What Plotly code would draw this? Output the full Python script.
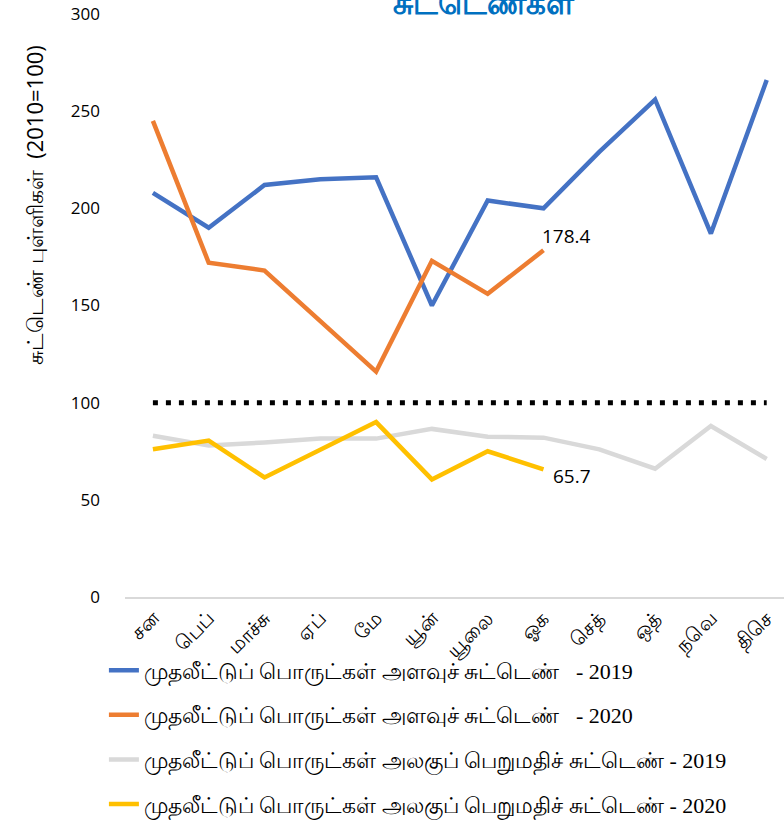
import plotly.graph_objects as go

months = ["சன", "பெப்", "மாச்சு", "ஏப்", "மே", "யூன்", "யூலை", "ஓக", "செத்", "ஒத்", "நவெ", "திசெ"]

vol_2019 = [208, 190, 212, 215, 216, 150, 204, 200, 229, 256, 187, 266]
vol_2020 = [245, 172, 168, 142, 116, 173, 156, 178.4]
uv_2019 = [83, 78, 79.5, 81.5, 81.5, 86.5, 82.5, 82, 76, 66, 88, 71]
uv_2020 = [76, 80.5, 61.5, 76, 90, 60.5, 75, 65.7]
base_line = [100] * 12

names = [
    "முதலீட்டுப் பொருட்கள் அளவுச் சுட்டெண்   - 2019",
    "முதலீட்டுப் பொருட்கள் அளவுச் சுட்டெண்   - 2020",
    "முதலீட்டுப் பொருட்கள் அலகுப் பெறுமதிச் சுட்டெண் - 2019",
    "முதலீட்டுப் பொருட்கள் அலகுப் பெறுமதிச் சுட்டெண் - 2020",
]

fig = go.Figure()

# base line at 100 (no legend entry)
fig.add_trace(go.Scatter(x=months, y=base_line, mode="lines", showlegend=False,
                         line=dict(color="black", width=5, dash="5px,8px"), hoverinfo="skip"))

series = [
    (vol_2019, "#4472C4"),
    (vol_2020, "#ED7D31"),
    (uv_2019, "#D9D9D9"),
    (uv_2020, "#FFC000"),
]
for i, (vals, col) in enumerate(series):
    fig.add_trace(go.Scatter(x=months[:len(vals)], y=vals, mode="lines", name=names[i],
                             legendgroup="g%d" % i, line=dict(color=col, width=4.5)))

fig.add_annotation(x=months[7], y=vol_2020[7], text="178.4", showarrow=False,
                   xanchor="left", yanchor="middle", xshift=-4, yshift=14,
                   font=dict(size=19, color="black", family="Open Sans"))
fig.add_annotation(x=months[7], y=uv_2020[7], text="65.7", showarrow=False,
                   xanchor="left", yanchor="middle", xshift=7, yshift=-7,
                   font=dict(size=19, color="black", family="Open Sans"))

# title, mostly cut off at the top of the picture
fig.add_annotation(xref="paper", yref="paper", x=0.545, y=1, yanchor="bottom", yshift=-11,
                   text="<b>சுட்டெண்கள்</b>", showarrow=False,
                   font=dict(size=31, color="#0070C0"))

# y axis title
fig.add_annotation(xref="paper", yref="paper", x=-0.137, y=0.672, xanchor="center",
                   yanchor="middle", textangle=-90,
                   text="சுட்டெண் புள்ளிகள்  (2010=100)", showarrow=False,
                   font=dict(size=22, color="black"))

fig.update_layout(
    width=784, height=828,
    margin=dict(l=125, r=0, t=14, b=231),
    plot_bgcolor="white", paper_bgcolor="white",
    font=dict(family="Open Sans, sans-serif", color="black"),
    legend=dict(x=-0.032, y=-0.09, xanchor="left", yanchor="top",
                tracegroupgap=13, font=dict(size=22, family="Liberation Serif", color="black"),
                bgcolor="rgba(0,0,0,0)"),
)
fig.update_xaxes(range=[-0.5, 11.31], showgrid=False, showline=True, linecolor="#D9D9D9",
                 linewidth=1.5, tickangle=-45, tickfont=dict(size=20), ticks="",
                 automargin=False)
fig.update_yaxes(range=[0, 300], dtick=50, showgrid=False, zeroline=False, showline=False,
                 tickfont=dict(size=17), ticklabelstandoff=24, automargin=False)

fig.write_html("out.html", config={"displayModeBar": False},
               post_script="document.body.style.margin='0';")
